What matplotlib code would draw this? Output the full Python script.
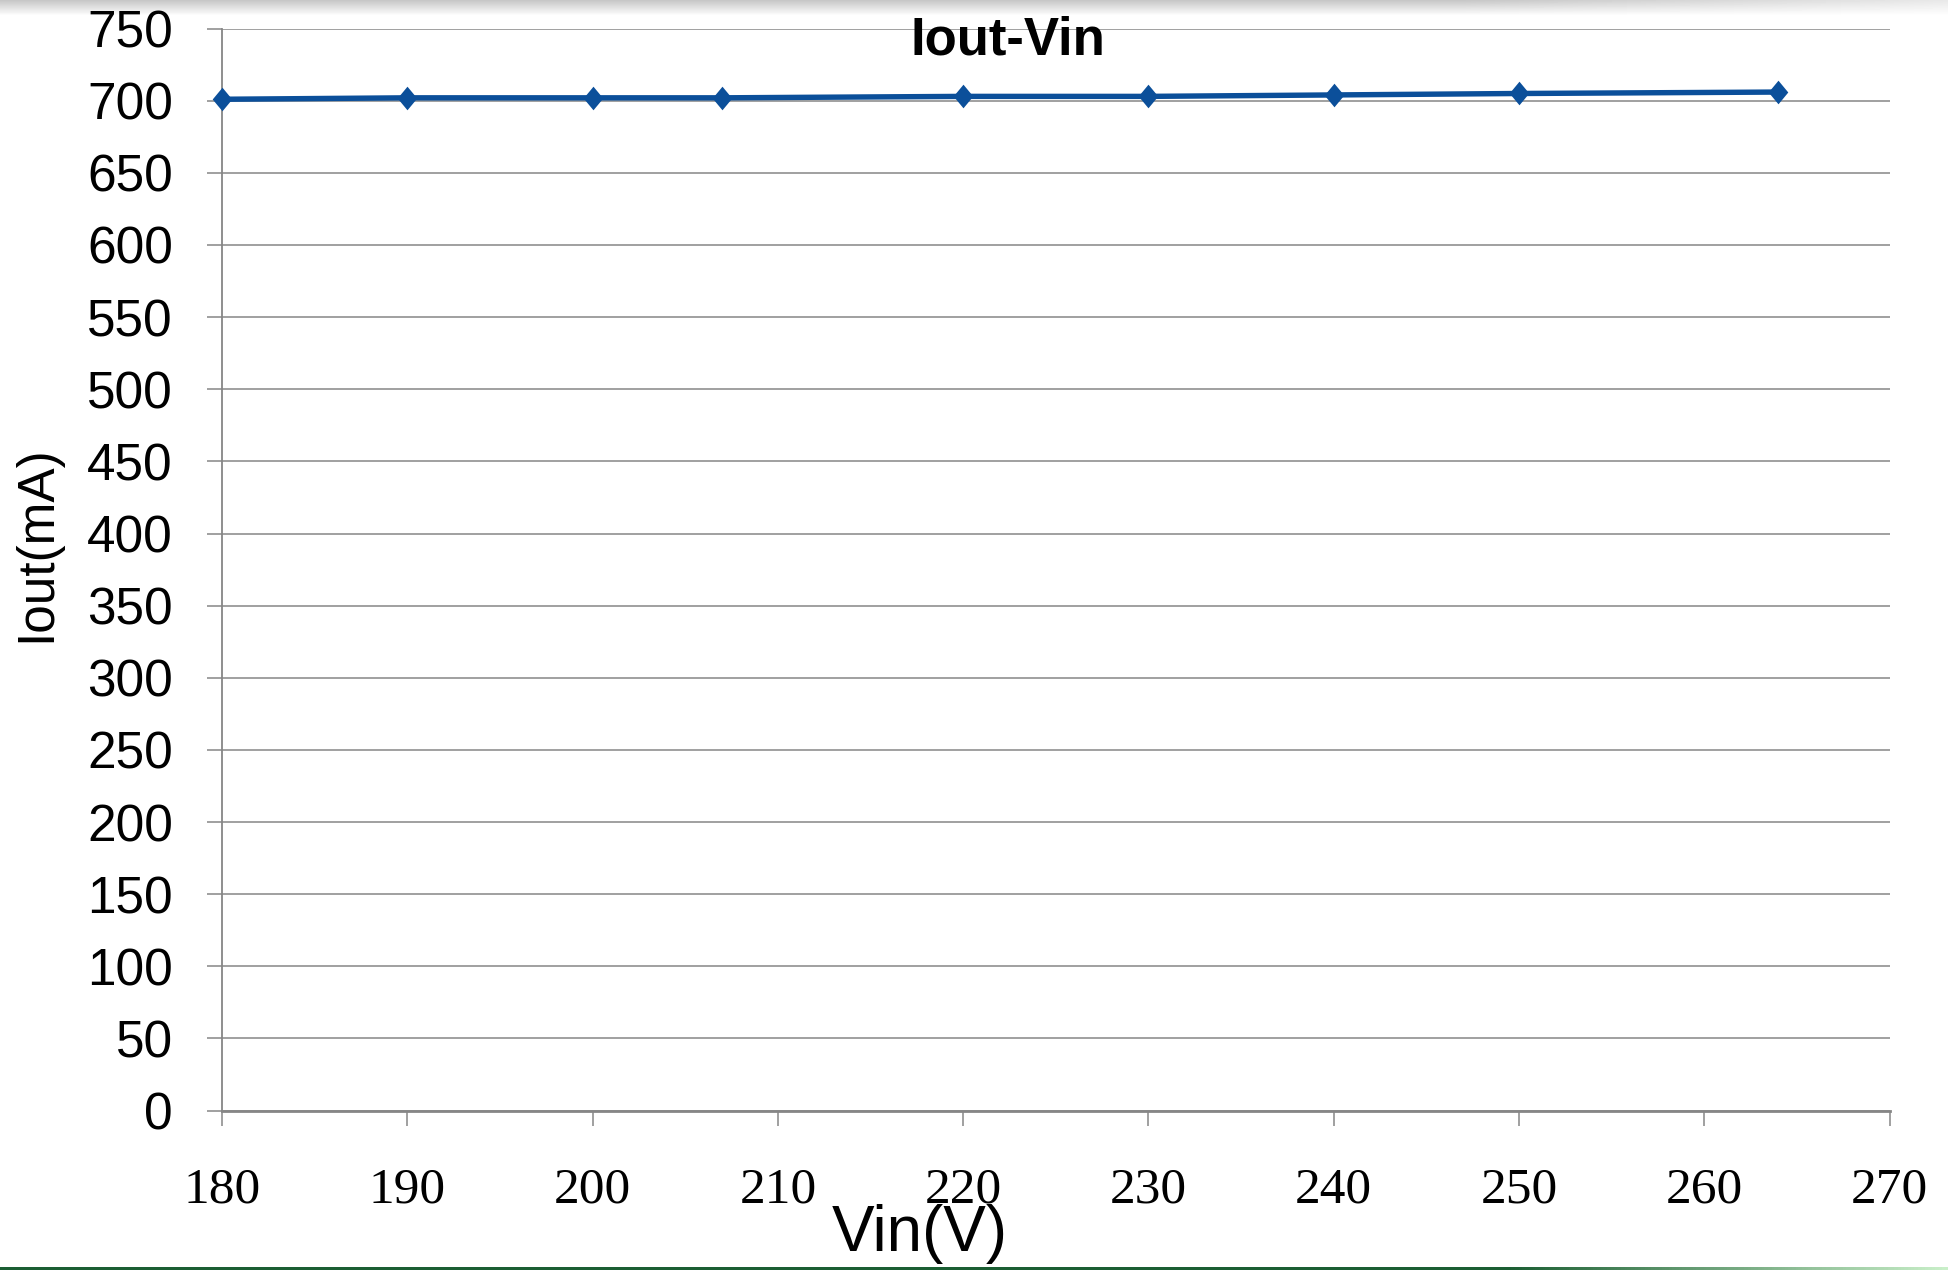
import matplotlib
matplotlib.use("Agg")
import matplotlib.pyplot as plt
import numpy as np
from matplotlib.colors import LinearSegmentedColormap

# measured output current vs. input voltage
vin = [180, 190, 200, 207, 220, 230, 240, 250, 264]
iout = [701, 702, 702, 702, 703, 703, 704, 705, 706]

x_ticks = list(range(180, 271, 10))
y_ticks = list(range(0, 751, 50))

fig = plt.figure(figsize=(19.48, 12.70), dpi=100)

# soft grey shadow along the top edge (kept underneath everything else)
top = fig.add_axes([0, 1 - 16 / 1270, 1, 16 / 1270], zorder=-1)
shade = np.linspace(0.78, 1.0, 16)[:, None] * np.ones((1, 400))
fade = np.clip((np.arange(400) - 300) / 100, 0, 1)[None, :]
shade = shade + (1 - shade) * fade * 0.6
top.imshow(shade, cmap="gray", vmin=0, vmax=1, aspect="auto")
top.axis("off")

ax = fig.add_axes([0.114, 0.1255, 0.856, 0.852])
ax.patch.set_alpha(0)

grey = "#868686"
# slightly tall diamond
diamond = [(0, 1), (0.83, 0), (0, -1), (-0.83, 0), (0, 1)]
ax.plot(vin, iout, color="#0b4f9a", lw=3.9, marker=diamond, ms=17,
        markeredgewidth=0, zorder=3, clip_on=False)

ax.set_xlim(180, 270)
ax.set_ylim(0, 750)
ax.set_xticks(x_ticks)
ax.set_yticks(y_ticks)
ax.set_xticklabels([str(t) for t in x_ticks], family="Liberation Serif", fontsize=37)
ax.set_yticklabels([str(t) for t in y_ticks], family="Liberation Sans", fontsize=37)
ax.tick_params(axis="x", length=10.5, width=1.1, color=grey, pad=30)
ax.tick_params(axis="y", length=10.5, width=1.1, color=grey, pad=25)

ax.grid(axis="y", color=grey, lw=1.1)
ax.set_axisbelow(True)
for side in ("top", "right"):
    ax.spines[side].set_visible(False)
ax.spines["left"].set_color(grey)
ax.spines["left"].set_linewidth(1.3)
ax.spines["bottom"].set_color(grey)
ax.spines["bottom"].set_linewidth(2.0)

ax.text(0.471, 1.012, "Iout-Vin", transform=ax.transAxes, ha="center", va="top",
        family="Liberation Sans", fontweight="bold", fontsize=38)
fig.text(0.472, 0.005, "Vin(V)", ha="center", va="bottom",
         family="Liberation Sans", fontsize=46)
fig.text(0.019, 0.572, "Iout(mA)", ha="center", va="center", rotation=90,
         family="Liberation Sans", fontsize=37)

# green rule along the bottom edge
bot = fig.add_axes([0, 0, 1, 3 / 1270])
greens = LinearSegmentedColormap.from_list("g", ["#1b5e33", "#1b5e33", "#c9efc9"])
ramp = np.clip((np.linspace(0, 1, 400) - 0.55) / 0.45, 0, 1)[None, :]
bot.imshow(ramp, cmap=greens, vmin=0, vmax=1, aspect="auto")
bot.axis("off")

fig.savefig("out.png", dpi=100)
